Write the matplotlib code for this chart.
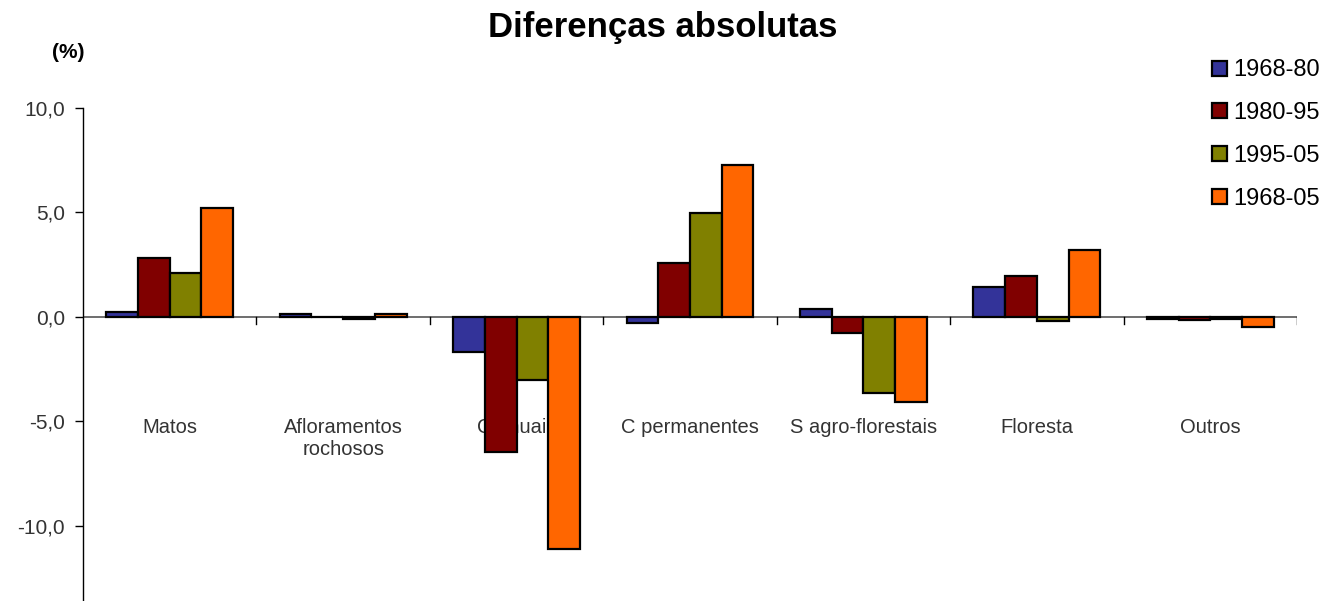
import matplotlib
matplotlib.use("Agg")
import matplotlib.pyplot as plt
import numpy as np

plt.rcParams["font.family"] = ["Liberation Sans", "DejaVu Sans"]

# data
categories = ["Matos", "Afloramentos\nrochosos", "C anuais", "C permanentes",
              "S agro-florestais", "Floresta", "Outros"]
series_names = ["1968-80", "1980-95", "1995-05", "1968-05"]
v_1968_80 = [0.24, 0.15, -1.68, -0.3, 0.38, 1.44, -0.12]
v_1980_95 = [2.84, 0.0, -6.45, 2.6, -0.77, 1.97, -0.17]
v_1995_05 = [2.12, -0.12, -3.03, 4.98, -3.65, -0.22, -0.12]
v_1968_05 = [5.19, 0.12, -11.1, 7.28, -4.09, 3.22, -0.48]
colors = ["#333399", "#800000", "#808000", "#FF6600"]

values = [v_1968_80, v_1980_95, v_1995_05, v_1968_05]

fig = plt.figure(figsize=(13.25, 6.01), dpi=100)
ax = fig.add_axes([83 / 1325, 0.0, (1297 - 83) / 1325, (601 - 108) / 601])

x = np.arange(len(categories))
width = 0.183
for i, (vals, name, c) in enumerate(zip(values, series_names, colors)):
    ax.bar(x + (i - 1.5) * width, vals, width, color=c, edgecolor="black",
           linewidth=1.6, label=name, zorder=3)

ax.set_xlim(-0.5, len(categories) - 0.5)
ax.set_ylim(-13.6, 10.0)

# spines
for s in ["top", "right", "bottom"]:
    ax.spines[s].set_visible(False)
ax.spines["left"].set_color("black")
ax.spines["left"].set_linewidth(1.0)
ax.axhline(0, color="#555555", linewidth=1.2, zorder=2)

# y ticks
ax.set_yticks([-10, -5, 0, 5, 10])
ax.set_yticklabels(["-10,0", "-5,0", "0,0", "5,0", "10,0"])
ax.tick_params(axis="y", direction="out", length=6, width=1, labelsize=15,
               labelcolor="#333333", pad=7)

# category boundary ticks on the zero line
ax.set_xticks([])
for b in np.arange(0.5, len(categories), 1.0):
    ax.plot([b, b], [0, -0.35], color="black", linewidth=1, zorder=2)

# category labels (drawn behind the bars)
for xi, cat in zip(x, categories):
    ax.text(xi, -4.85, cat, ha="center", va="top", fontsize=14.5,
            color="#333333", linespacing=1.2, zorder=1)

fig.text(0.5, 0.955, "Diferenças absolutas", ha="center", va="center",
         fontsize=25, fontweight="bold")
fig.text(68 / 1325, 1 - 52 / 601, "(%)", ha="center", va="center",
         fontsize=15, fontweight="bold")

leg = fig.legend(loc="upper left", bbox_to_anchor=(1203 / 1325, 1 - 50 / 601),
                 frameon=False, fontsize=17, handlelength=0.6,
                 handleheight=0.6, handletextpad=0.3, labelspacing=0.88,
                 borderaxespad=0.0)

fig.savefig("out.png", dpi=100)
